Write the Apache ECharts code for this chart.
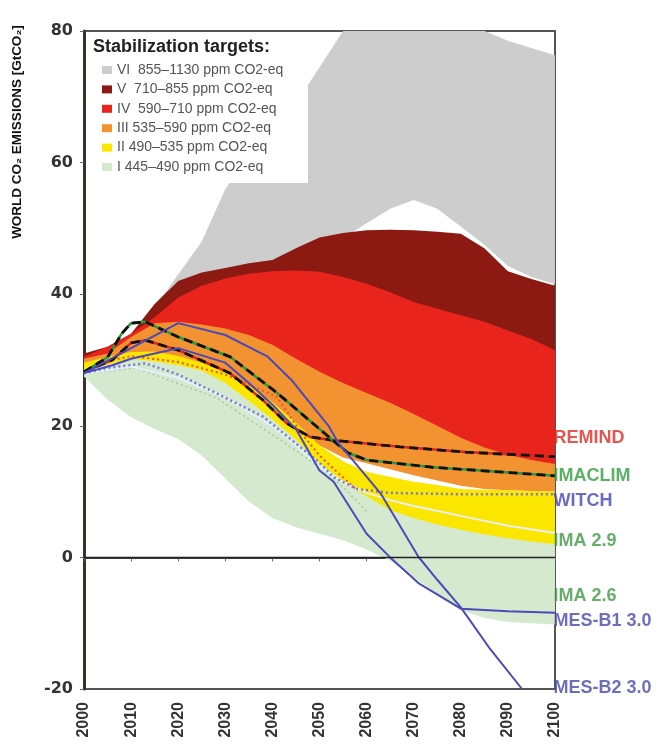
<!DOCTYPE html>
<html><head><meta charset="utf-8">
<script src="https://cdn.jsdelivr.net/npm/echarts@6.0.0/dist/echarts.min.js"></script>
<style>html,body{margin:0;padding:0;background:#fff}#c{width:671px;height:751px}</style>
</head><body><div id="c"></div>
<script>
// ---------- DATA ----------
const years = [2000,2005,2010,2015,2020,2025,2030,2035,2040,2045,2050,2055,2060,2065,2070,2075,2080,2085,2090,2095,2100];

const bandNames = ['VI  855–1130 ppm CO2-eq','V  710–855 ppm CO2-eq','IV  590–710 ppm CO2-eq','III 535–590 ppm CO2-eq','II 490–535 ppm CO2-eq','I 445–490 ppm CO2-eq'];

const viLow  = [28,29,31,34,37,39,41,42,43,44.5,46,48.5,50.8,53,54.3,53,50.3,47.5,44.3,42.6,41.5];
const viHigh = [29.5,31,34,38,43,48,56,61,65,69,74.5,80,80,80,80,80,80,80,78.5,77.4,76.3];
const vLow   = [28,29.5,31.5,33,34,34,33.5,32.5,31,29,27,25.5,24.5,23.5,22.5,21.5,20.5,19.5,18.5,17.5,16.5];
const vHigh  = [31,32,34,38.5,42,43.3,44,44.7,45.2,47,48.6,49.3,49.7,49.8,49.7,49.5,49.2,47,43.5,42.3,41.3];
const ivLow  = [28,29.5,31,33,33.5,33,32,31,29.5,27.5,25.5,23.5,22,20.5,19,17.5,16,14.5,13.5,12.8,12.2];
const ivHigh = [30.5,32,34,36.5,39.5,41.3,42.4,43.1,43.5,43.6,43.4,42.6,41.6,40.3,38.8,37.8,36.8,35.8,34.5,33.2,31.5];
const iiiLow = [28.5,29.5,30.5,30.5,30,29,27.5,25.5,23,20,17,15.2,14.3,13.4,12.5,11.7,10.9,10.4,10.2,10.1,10];
const iiiHigh= [30.2,31,33.5,35.6,35.8,35.4,34.8,33.8,32.3,30.2,28.2,26.5,25,23.5,21.8,20,18.2,16.7,15.6,14.8,14.2];
const iiLow  = [27.5,27,27,26,25,23.5,21.5,19,16,13,10.5,8.5,7,5.5,4.5,3.5,3,2.5,2,1.8,1.6];
const iiHigh = [29.6,30.5,31.2,31.3,30.6,29.6,28.1,26.1,23.6,20.5,17,14.6,13,12.2,11.5,11,10.4,10.3,10.2,10.1,10];
const iLow   = [27.5,24,21.3,19.5,18,15.5,12,8.5,6,4.6,3.6,2.6,1.2,-0.5,-3,-5.5,-8,-9.2,-9.8,-10,-10.2];
const iHigh  = [28.4,29.3,30.2,29.8,29.2,28.4,26.5,23.8,21,17.9,14.4,11.5,9.3,7.2,6,5,4.2,3.5,2.9,2.4,2];

const remindYears = [2000,2006,2010,2013,2020,2031,2038,2043,2048,2053,2067,2081,2100];
const remindVals  = [28.2,30,32.6,33,31.5,28,23.9,20.4,18.3,17.8,16.8,16,15.3];
const imaclimYears = [2000,2005,2008,2010,2013,2020,2031,2041,2051,2056,2060,2074,2088,2100];
const imaclimVals  = [28.2,30.4,34,35.6,35.8,33.5,30.5,25,18.9,15.9,14.8,13.7,13,12.4];
const witchYears = [2000,2005,2013,2020,2028,2038,2044,2050,2053,2058,2065,2080,2100];
const witchVals  = [28,28.8,29.5,27.8,25,21.4,17.9,14.4,12.2,10.4,9.8,9.6,9.6];
const redDotYears = [2003,2010,2020,2030,2041,2046,2050,2054,2058];
const redDotVals  = [29.5,30.6,29.7,27.8,24.4,19,15.5,12.8,10.2];
const ima29Years = [2000,2010,2020,2030,2040,2045,2050,2055,2060,2065,2070,2084,2090,2100];
const ima29Vals  = [28,29,27.3,24.3,20,17,13.8,11.5,9.8,8.7,7.8,5.7,4.8,3.7];
const ima26Years = [2000,2011,2028,2042,2051,2056,2060];
const ima26Vals  = [28,28.8,24.3,17.7,13.2,10,7];
const mesB1Years = [2000,2006,2010,2020,2030,2035,2040,2045,2050,2053,2060,2065,2071,2080,2090,2100];
const mesB1Vals  = [28,29.2,30.2,31.8,29.6,26.5,23.2,19.5,13.2,11.5,3.6,0,-3.9,-7.8,-8.2,-8.4];
const mesB2Years = [2000,2010,2020,2030,2039,2044,2052,2054,2063,2071,2075,2080,2086,2093];
const mesB2Vals  = [28,31.8,35.6,33.8,30.5,27,19.9,17.4,9.7,0.1,-3.4,-7.6,-13.7,-20];
const zeroYears = [2000,2100];
const zeroVals  = [0,0];

const labelNames  = ['REMIND','IMACLIM','WITCH','IMA 2.9','IMA 2.6','MES-B1 3.0','MES-B2 3.0'];
const labelValues = [18.2,12.4,8.6,2.5,-5.8,-9.7,-19.9];

// ---------- STYLE ----------
const bandColors = ['#cdcdcd','#8c1a12','#e8241c','#f39230','#fbe600','#d5e9cf'];
const labelColors = ['#e02a22','#2f9e3c','#4444bb','#3f9a42','#3f9a42','#4a4aae','#4a4aae'];
const bands = [[viLow,viHigh],[vLow,vHigh],[ivLow,ivHigh],[iiiLow,iiiHigh],[iiLow,iiHigh],[iLow,iHigh]];

function bandSeries(idx){
  const low = bands[idx][0], high = bands[idx][1], color = bandColors[idx];
  return {
    type:'custom', name: bandNames[idx], itemStyle:{color:color}, silent:true, z:2+idx*0.01,
    data:[[years[0], low[0]]],
    renderItem:function(params, api){
      const pts=[];
      for(let i=0;i<years.length;i++) pts.push(api.coord([years[i], high[i]]));
      for(let i=years.length-1;i>=0;i--) pts.push(api.coord([years[i], low[i]]));
      const cs=params.coordSys;
      return {type:'polygon', shape:{points: echarts.graphic.clipPointsByRect(pts,{x:cs.x,y:cs.y,width:cs.width,height:cs.height})}, style:{fill:color}};
    }
  };
}
function lineSeries(name, xs, ys, lineStyle, z){
  return {type:'line', name:name, data: xs.map((x,i)=>[x, ys[i]]), symbol:'none', lineStyle:lineStyle, silent:true, z:z||5};
}

const series = [];
for(let i=0;i<bands.length;i++) series.push(bandSeries(i));
series.push(lineSeries('ima26', ima26Years, ima26Vals, {color:'#8fc79a', width:1.5, type:[2,3], opacity:0.8}, 5));
series.push(lineSeries('ima29', ima29Years, ima29Vals, {color:'#e6f0fa', width:2}, 5));
series.push(lineSeries('reddot', redDotYears, redDotVals, {color:'#e8503a', width:2, type:[2,3]}, 5));
series.push(lineSeries('witch', witchYears, witchVals, {color:'#7878d8', width:2.5, type:[2,3]}, 5));
series.push(lineSeries('remindBase', remindYears, remindVals, {color:'#d8281e', width:2.5}, 6));
series.push(lineSeries('remind', remindYears, remindVals, {color:'#111', width:2.8, type:[9,5]}, 6));
series.push(lineSeries('imaclimBase', imaclimYears, imaclimVals, {color:'#2a9a3c', width:2.5}, 6));
series.push(lineSeries('imaclim', imaclimYears, imaclimVals, {color:'#111', width:2.8, type:[9,5]}, 6));
series.push(lineSeries('mesB1', mesB1Years, mesB1Vals, {color:'#4a4ab8', width:2}, 7));
series.push(lineSeries('mesB2', mesB2Years, mesB2Vals, {color:'#4a4ab8', width:2}, 7));
series.push(lineSeries('zero', zeroYears, zeroVals, {color:'#222', width:1.5}, 7));
series.push({
  type:'scatter', name:'labels', silent:true, clip:false, z:20, symbolSize:1,
  itemStyle:{color:'rgba(0,0,0,0)'},
  data: labelNames.map((n,i)=>({name:n, value:[2100, labelValues[i]], label:{color:labelColors[i]}})),
  label:{show:true, position:'right', distance:0, offset:[-2,0], formatter:'{b}', fontSize:18, fontWeight:'bold', fontFamily:'Liberation Sans, Arial, sans-serif'}
});

const chart = echarts.init(document.getElementById('c'), null, {renderer:'canvas'});
chart.setOption({
  animation:false,
  backgroundColor:'#fff',
  grid:{left:84, right:116, top:31, bottom:62, show:true, borderColor:'#555', borderWidth:2, backgroundColor:'rgba(0,0,0,0)'},
  title:{text:'Stabilization targets:', left:93, top:38, padding:0, z:12,
    textStyle:{fontSize:18, fontWeight:'bold', color:'#222', fontFamily:'Liberation Sans, Arial, sans-serif'}},
  legend:{data:bandNames, orient:'vertical', left:102, top:63, itemWidth:10, itemHeight:8, itemGap:5.4, icon:'rect',
    selectedMode:false, z:12, padding:0,
    textStyle:{fontSize:14, lineHeight:14, color:'#555', fontFamily:'Liberation Sans, Arial, sans-serif'}},
  graphic:[
    {type:'rect', z:10, shape:{x:86, y:32, width:222, height:151}, style:{fill:'#fff'}},
    {type:'text', z:10, x:17, y:132, rotation:Math.PI/2,
      style:{text:'WORLD CO₂ EMISSIONS [GtCO₂]', fill:'#111', font:'bold 13.5px "Liberation Sans", Arial, sans-serif', align:'center', verticalAlign:'middle'}}
  ],
  xAxis:{type:'value', min:2000, max:2100, interval:10,
    axisLine:{show:true, lineStyle:{color:'#444', width:2}},
    axisTick:{show:true, length:4, lineStyle:{color:'#666'}},
    splitLine:{show:false},
    axisLabel:{rotate:90, margin:13, fontSize:16, fontWeight:'bold', color:'#333', fontFamily:'Liberation Sans, Arial, sans-serif',
      formatter:function(v){return String(v);}}},
  yAxis:{type:'value', min:-20, max:80, interval:20,
    axisLine:{show:true, lineStyle:{color:'#3a3030', width:3}},
    axisTick:{show:true, length:4, lineStyle:{color:'#666'}},
    splitLine:{show:false},
    axisLabel:{margin:11, fontSize:16, fontWeight:'bold', color:'#333', fontFamily:'DejaVu Sans, sans-serif'}},
  series:series
});
</script>
</body></html>
